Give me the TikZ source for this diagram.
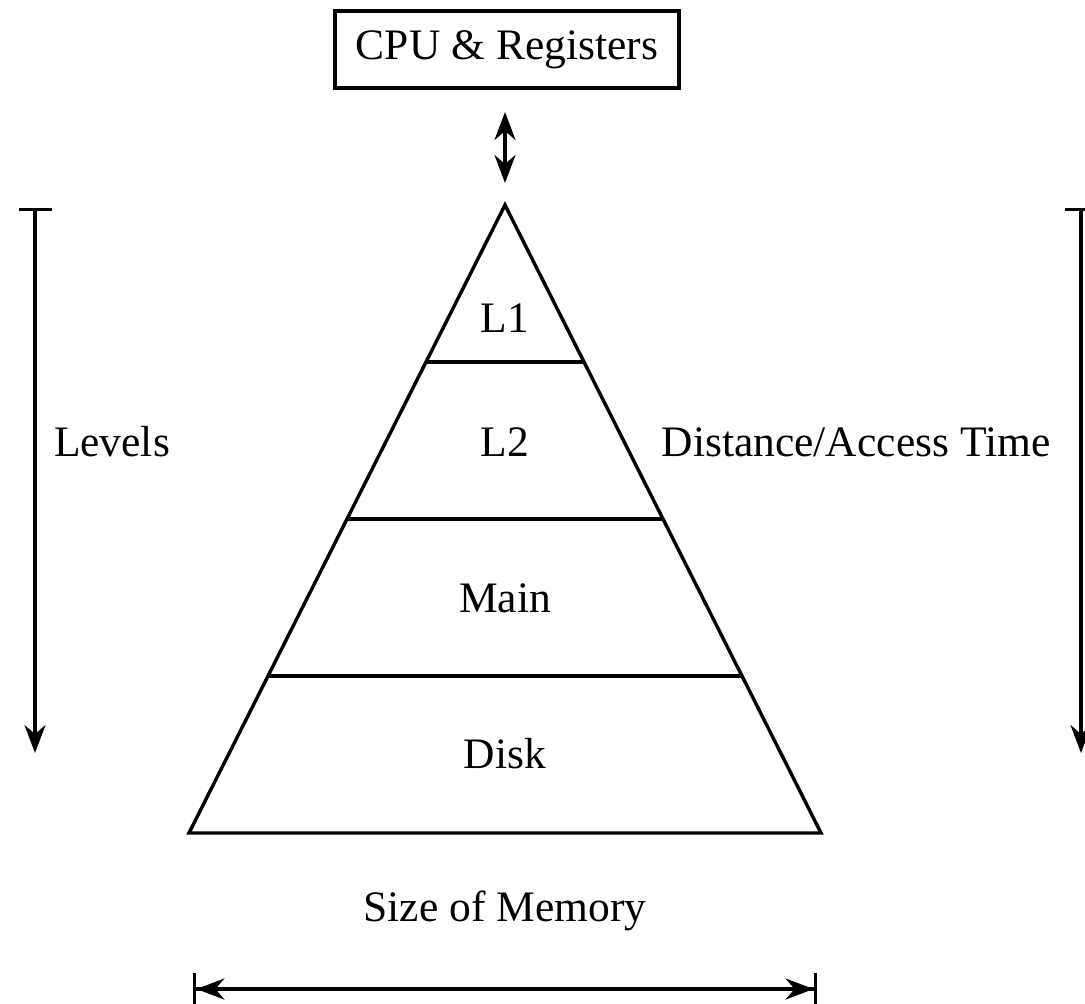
\documentclass[tikz,border=0pt]{standalone}
\usepackage{fontspec}
\setmainfont{Liberation Serif}
\usetikzlibrary{arrows.meta,calc}
\tikzset{
  lbl/.style={anchor=base,inner sep=0pt,font=\fontsize{43.5}{52}\selectfont},
}
\begin{document}
\begin{tikzpicture}[x=1pt,y=-1pt,line width=3.4pt]
\useasboundingbox (0,0) rectangle (1085,1004);
% CPU box
\node[draw,line width=3.4pt,inner xsep=21pt,inner ysep=19pt,minimum height=77pt,
      font=\fontsize{43.5}{52}\selectfont] (cpu) at (507,49.5) {CPU \& Registers};
% pyramid
\coordinate (apex) at (505,205);
\coordinate (baseL) at (189,833);
\coordinate (baseR) at (821,833);
\draw[line join=miter] (apex) -- (baseL) -- (baseR) -- cycle;
\foreach \t/\n in {0.25/p,0.5/q,0.75/r}{
  \coordinate (\n Left) at ($(apex)!\t!(baseL)$);
  \coordinate (\n Right) at ($(apex)!\t!(baseR)$);
  \draw (\n Left) -- (\n Right);
}
% labels
\node[lbl] (l1) at (505,332) {L1};
\node[lbl] (l2) at (505,456) {L2};
\node[lbl] (main) at (505,612) {Main};
\node[lbl] (disk) at (505,768) {Disk};
\node[lbl] (levels) at (112,456) {Levels};
\node[lbl] (dist) at (856,456) {Distance/Access Time};
\node[lbl] (size) at (505,921) {Size of Memory};
% double arrow CPU <-> pyramid
\coordinate (dtop) at (505,112);
\coordinate (dbot) at (505,183);
\draw[{Stealth[length=28pt,width=21pt,inset=9pt]}-{Stealth[length=28pt,width=21pt,inset=9pt]}] (dtop) -- (dbot);
% left arrow
\coordinate (lt) at (35,208);
\coordinate (lb) at (35,753);
\draw[{Bar[width=33pt]}-{Stealth[length=28pt,width=21pt,inset=9pt]}] (lt) -- (lb);
% right arrow
\coordinate (rt) at (1081,208);
\coordinate (rb) at (1081,753);
\draw[{Bar[width=33pt]}-{Stealth[length=28pt,width=21pt,inset=9pt]}] (rt) -- (rb);
% bottom arrow
\coordinate (bL) at (193,989);
\coordinate (bR) at (817,989);
\draw[{Bar[width=33pt]Stealth[length=28pt,width=21pt,inset=9pt]}-{Stealth[length=28pt,width=21pt,inset=9pt]Bar[width=33pt]}] (bL) -- (bR);
\end{tikzpicture}
\end{document}
